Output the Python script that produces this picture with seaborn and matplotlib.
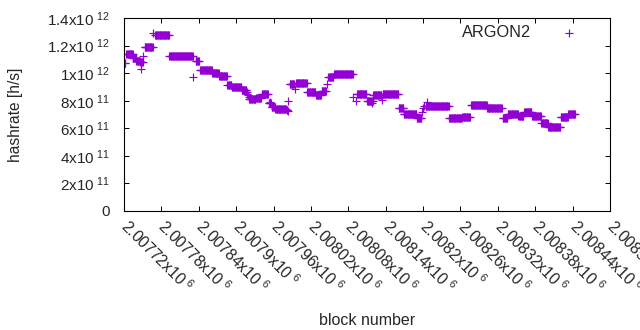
import numpy as np
import pandas as pd
import matplotlib
matplotlib.use('Agg')
import matplotlib.pyplot as plt
import seaborn as sns

# runs of (nearly) equal hashrate:
# first block, last block, hashrate [h/s]
run_first = [2007721, 2007724, 2007734, 2007740, 2007746, 2007747, 2007751, 2007753,
             2007767, 2007770, 2007793, 2007831, 2007835, 2007842, 2007862, 2007873,
             2007886, 2007893, 2007909, 2007917, 2007918, 2007919, 2007920, 2007921,
             2007932, 2007941, 2007952, 2007954, 2007957, 2007963, 2007981, 2007982,
             2007983, 2007984, 2007986, 2007995, 2007996, 2008014, 2008028, 2008037,
             2008045, 2008048, 2008057, 2008088, 2008092, 2008094, 2008110, 2008118,
             2008120, 2008134, 2008135, 2008161, 2008169, 2008190, 2008198, 2008200,
             2008202, 2008204, 2008206, 2008242, 2008263, 2008277, 2008303, 2008328,
             2008336, 2008353, 2008362, 2008375, 2008390, 2008401, 2008421, 2008433]
run_last = [2007722, 2007734, 2007740, 2007745, 2007750, 2007747, 2007751, 2007766,
            2007767, 2007792, 2007830, 2007831, 2007840, 2007861, 2007872, 2007885,
            2007892, 2007908, 2007916, 2007917, 2007918, 2007919, 2007920, 2007931,
            2007940, 2007951, 2007956, 2007954, 2007962, 2007980, 2007981, 2007982,
            2007983, 2007984, 2007993, 2007995, 2008013, 2008027, 2008036, 2008044,
            2008045, 2008056, 2008087, 2008088, 2008092, 2008109, 2008119, 2008118,
            2008133, 2008134, 2008160, 2008168, 2008189, 2008197, 2008198, 2008200,
            2008202, 2008241, 2008206, 2008262, 2008275, 2008302, 2008326, 2008335,
            2008352, 2008361, 2008374, 2008389, 2008400, 2008420, 2008432, 2008444]
run_rate = [1.077e12, 1.136e12, 1.110e12, 1.090e12, 1.080e12, 1.027e12, 1.126e12, 1.187e12,
            1.288e12, 1.274e12, 1.121e12, 0.969e12, 1.085e12, 1.020e12, 0.998e12, 0.977e12,
            0.911e12, 0.896e12, 0.881e12, 0.862e12, 0.850e12, 0.840e12, 0.830e12, 0.812e12,
            0.823e12, 0.850e12, 0.780e12, 0.793e12, 0.752e12, 0.740e12, 0.735e12, 0.730e12,
            0.725e12, 0.797e12, 0.924e12, 0.882e12, 0.925e12, 0.866e12, 0.845e12, 0.870e12,
            0.921e12, 0.969e12, 0.992e12, 0.830e12, 0.800e12, 0.848e12, 0.798e12, 0.780e12,
            0.845e12, 0.805e12, 0.848e12, 0.748e12, 0.704e12, 0.678e12, 0.720e12, 0.745e12,
            0.765e12, 0.764e12, 0.790e12, 0.676e12, 0.683e12, 0.771e12, 0.747e12, 0.674e12,
            0.707e12, 0.689e12, 0.716e12, 0.689e12, 0.640e12, 0.611e12, 0.679e12, 0.704e12]

x_ticks = [2007720, 2007780, 2007840, 2007900, 2007960, 2008020, 2008080,
           2008140, 2008200, 2008260, 2008320, 2008380, 2008440, 2008500]
x_tick_labels = [r'2.00772x10$^{\ 6}$', r'2.00778x10$^{\ 6}$', r'2.00784x10$^{\ 6}$',
                 r'2.0079x10$^{\ 6}$', r'2.00796x10$^{\ 6}$', r'2.00802x10$^{\ 6}$',
                 r'2.00808x10$^{\ 6}$', r'2.00814x10$^{\ 6}$', r'2.0082x10$^{\ 6}$',
                 r'2.00826x10$^{\ 6}$', r'2.00832x10$^{\ 6}$', r'2.00838x10$^{\ 6}$',
                 r'2.00844x10$^{\ 6}$', r'2.0085x10$^{\ 6}$']
y_ticks = [0, 2e11, 4e11, 6e11, 8e11, 1e12, 1.2e12, 1.4e12]
y_tick_labels = ['0', r'2x10$^{\ 11}$', r'4x10$^{\ 11}$', r'6x10$^{\ 11}$', r'8x10$^{\ 11}$',
                 r'1x10$^{\ 12}$', r'1.2x10$^{\ 12}$', r'1.4x10$^{\ 12}$']

blocks = np.concatenate([np.arange(a, b + 1) for a, b in zip(run_first, run_last)])
rates = np.concatenate([np.full(b - a + 1, r) for a, b, r in zip(run_first, run_last, run_rate)])
df = pd.DataFrame({'block': blocks, 'hashrate': rates})

sns.set_style('ticks')
plt.rcParams['font.family'] = ['Liberation Sans', 'DejaVu Sans']
plt.rcParams['mathtext.fontset'] = 'custom'
plt.rcParams['mathtext.rm'] = 'Liberation Sans'
plt.rcParams['mathtext.default'] = 'regular'

fig = plt.figure(figsize=(6.4, 3.3), dpi=100)
ax = fig.add_axes([124 / 640, 1 - 211 / 330, 486 / 640, 193 / 330])

sns.scatterplot(data=df, x='block', y='hashrate', marker='+', color='#9400d3',
                s=38, linewidth=0.85, label='ARGON2', ax=ax)

ax.set_xlim(2007720, 2008500)
ax.set_ylim(0, 1.4e12)
ax.set_xticks(x_ticks)
ax.set_xticklabels(x_tick_labels, rotation=-45, ha='left', va='center',
                   rotation_mode='anchor', fontsize=11.3)
ax.set_yticks(y_ticks)
ax.set_yticklabels(y_tick_labels, fontsize=11)
ax.tick_params(direction='in', length=3.5, width=0.7, top=True, right=True, color='black')
ax.tick_params(axis='y', pad=10)
ax.tick_params(axis='x', pad=9)
for sp in ax.spines.values():
    sp.set_visible(True)
    sp.set_linewidth(0.8)
    sp.set_color('black')

ax.set_xlabel('block number', fontsize=11.5)
ax.set_ylabel('hashrate [h/s]', fontsize=11.2)
ax.xaxis.set_label_coords(0.5, -(313 - 211) / 193)
ax.yaxis.set_label_coords(-(124 - 23) / 486, 0.5)

ax.legend(loc='upper right', bbox_to_anchor=(0.959, 0.99), frameon=False,
          markerfirst=False, handlelength=2, handletextpad=1.3, borderpad=0.3,
          borderaxespad=0, fontsize=11.8)

fig.savefig('out.png', dpi=100)
